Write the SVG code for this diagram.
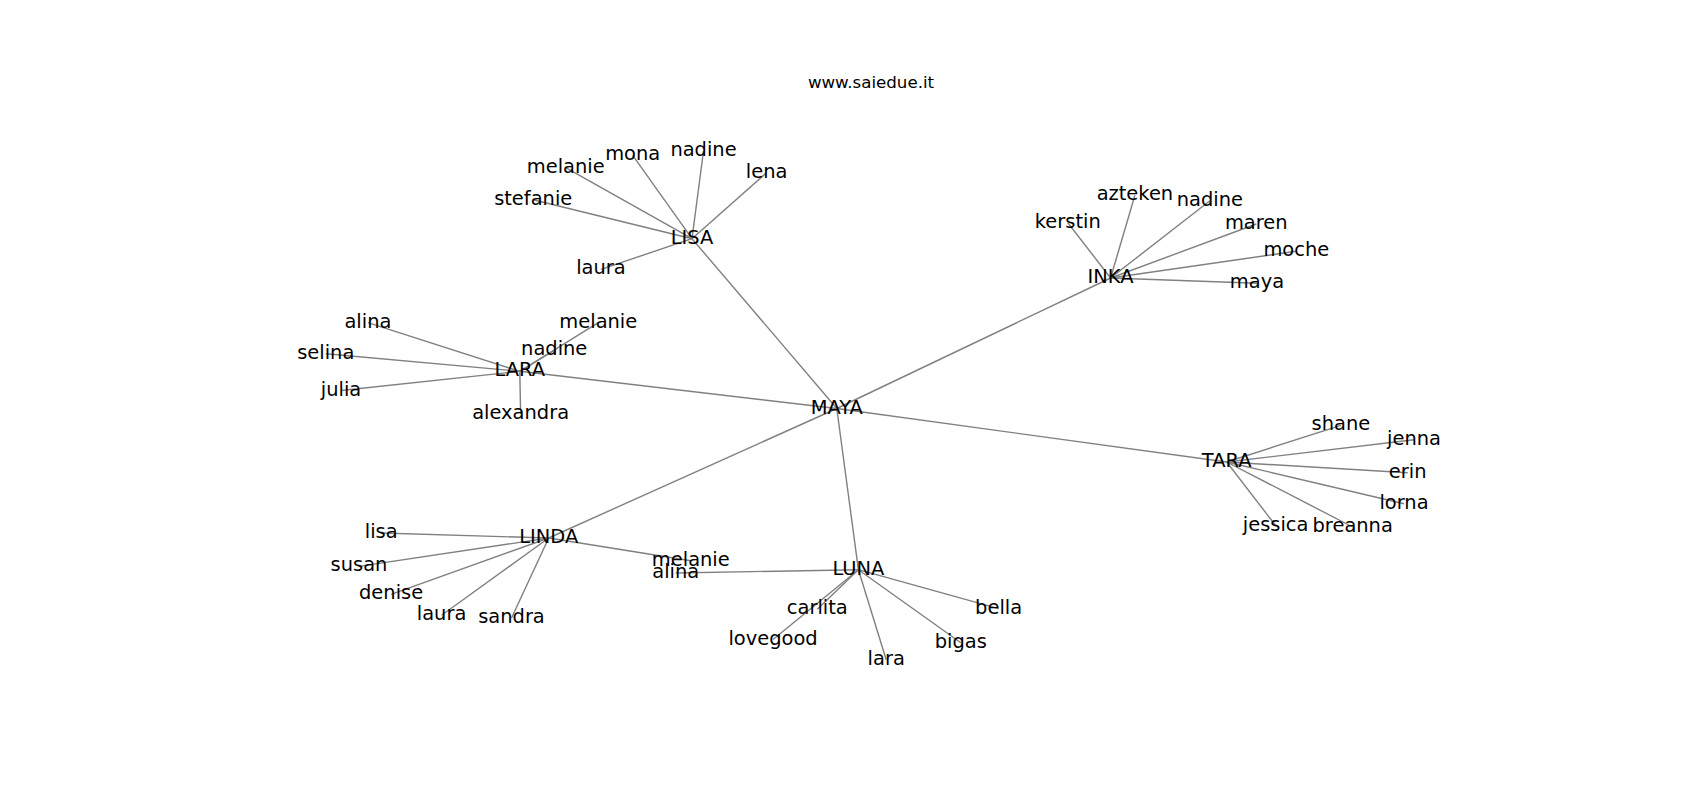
<svg xmlns="http://www.w3.org/2000/svg" width="1700" height="800" viewBox="0 0 1700 800">
<style>
text{font-family:"DejaVu Sans","Liberation Sans",sans-serif;fill:#000}
.l{font-size:19.44px;text-anchor:middle}
.t{font-size:16.67px;text-anchor:middle}
#edges line{stroke:#808080;stroke-width:1.4}
</style>
<rect width="1700" height="800" fill="#fff"/>
<text class="t" x="871" y="87.7">www.saiedue.it</text>
<g id="edges">
<line x1="836.8" y1="408.5" x2="692" y2="238.7"/>
<line x1="836.8" y1="408.5" x2="1110.6" y2="278"/>
<line x1="836.8" y1="408.5" x2="519.8" y2="371.3"/>
<line x1="836.8" y1="408.5" x2="1226.7" y2="462"/>
<line x1="836.8" y1="408.5" x2="548.7" y2="538"/>
<line x1="836.8" y1="408.5" x2="858.4" y2="569.7"/>
<line x1="692" y1="238.7" x2="565.7" y2="167.7"/>
<line x1="692" y1="238.7" x2="632.7" y2="155.4"/>
<line x1="692" y1="238.7" x2="703.5" y2="151"/>
<line x1="692" y1="238.7" x2="766.6" y2="172.7"/>
<line x1="692" y1="238.7" x2="533.2" y2="199.7"/>
<line x1="692" y1="238.7" x2="601" y2="269.3"/>
<line x1="519.8" y1="371.3" x2="367.9" y2="322.7"/>
<line x1="519.8" y1="371.3" x2="325.8" y2="353.7"/>
<line x1="519.8" y1="371.3" x2="341" y2="390.5"/>
<line x1="519.8" y1="371.3" x2="520.6" y2="413.7"/>
<line x1="519.8" y1="371.3" x2="598.3" y2="322.7"/>
<line x1="519.8" y1="371.3" x2="554.2" y2="350.3"/>
<line x1="1110.6" y1="278" x2="1067.8" y2="222.7"/>
<line x1="1110.6" y1="278" x2="1134.9" y2="195.3"/>
<line x1="1110.6" y1="278" x2="1209.9" y2="200.7"/>
<line x1="1110.6" y1="278" x2="1256.3" y2="224"/>
<line x1="1110.6" y1="278" x2="1296.3" y2="251.3"/>
<line x1="1110.6" y1="278" x2="1257" y2="283.3"/>
<line x1="1226.7" y1="462" x2="1340.9" y2="425.3"/>
<line x1="1226.7" y1="462" x2="1414" y2="439.8"/>
<line x1="1226.7" y1="462" x2="1407.7" y2="472.7"/>
<line x1="1226.7" y1="462" x2="1404" y2="503.7"/>
<line x1="1226.7" y1="462" x2="1275.6" y2="525.5"/>
<line x1="1226.7" y1="462" x2="1352.7" y2="527"/>
<line x1="548.7" y1="538" x2="381.2" y2="533"/>
<line x1="548.7" y1="538" x2="359" y2="566.4"/>
<line x1="548.7" y1="538" x2="391.1" y2="594.3"/>
<line x1="548.7" y1="538" x2="441.6" y2="615.3"/>
<line x1="548.7" y1="538" x2="511.5" y2="618"/>
<line x1="548.7" y1="538" x2="690.8" y2="560.7"/>
<line x1="858.4" y1="569.7" x2="675.7" y2="573"/>
<line x1="858.4" y1="569.7" x2="817.3" y2="609.3"/>
<line x1="858.4" y1="569.7" x2="773" y2="639.5"/>
<line x1="858.4" y1="569.7" x2="886.2" y2="659.7"/>
<line x1="858.4" y1="569.7" x2="960.8" y2="642.8"/>
<line x1="858.4" y1="569.7" x2="998.6" y2="608.7"/>
</g>
<g id="n-MAYA"><text class="l" x="836.8" y="413.5">MAYA</text></g>
<g id="n-LISA"><text class="l" x="692" y="243.7">LISA</text></g>
<g id="n-INKA"><text class="l" x="1110.6" y="283">INKA</text></g>
<g id="n-LARA"><text class="l" x="519.8" y="376.3">LARA</text></g>
<g id="n-TARA"><text class="l" x="1226.7" y="467">TARA</text></g>
<g id="n-LINDA"><text class="l" x="548.7" y="543">LINDA</text></g>
<g id="n-LUNA"><text class="l" x="858.4" y="574.7">LUNA</text></g>
<g id="n-lisa-melanie"><text class="l" x="565.7" y="172.7">melanie</text></g>
<g id="n-lisa-mona"><text class="l" x="632.7" y="160.4">mona</text></g>
<g id="n-lisa-nadine"><text class="l" x="703.5" y="156">nadine</text></g>
<g id="n-lisa-lena"><text class="l" x="766.6" y="177.7">lena</text></g>
<g id="n-lisa-stefanie"><text class="l" x="533.2" y="204.7">stefanie</text></g>
<g id="n-lisa-laura"><text class="l" x="601" y="274.3">laura</text></g>
<g id="n-lara-alina"><text class="l" x="367.9" y="327.7">alina</text></g>
<g id="n-lara-selina"><text class="l" x="325.8" y="358.7">selina</text></g>
<g id="n-lara-julia"><text class="l" x="341" y="395.5">julia</text></g>
<g id="n-lara-alexandra"><text class="l" x="520.6" y="418.7">alexandra</text></g>
<g id="n-lara-melanie"><text class="l" x="598.3" y="327.7">melanie</text></g>
<g id="n-lara-nadine"><text class="l" x="554.2" y="355.3">nadine</text></g>
<g id="n-inka-kerstin"><text class="l" x="1067.8" y="227.7">kerstin</text></g>
<g id="n-inka-azteken"><text class="l" x="1134.9" y="200.3">azteken</text></g>
<g id="n-inka-nadine"><text class="l" x="1209.9" y="205.7">nadine</text></g>
<g id="n-inka-maren"><text class="l" x="1256.3" y="229">maren</text></g>
<g id="n-inka-moche"><text class="l" x="1296.3" y="256.3">moche</text></g>
<g id="n-inka-maya"><text class="l" x="1257" y="288.3">maya</text></g>
<g id="n-tara-shane"><text class="l" x="1340.9" y="430.3">shane</text></g>
<g id="n-tara-jenna"><text class="l" x="1414" y="444.8">jenna</text></g>
<g id="n-tara-erin"><text class="l" x="1407.7" y="477.7">erin</text></g>
<g id="n-tara-lorna"><text class="l" x="1404" y="508.7">lorna</text></g>
<g id="n-tara-jessica"><text class="l" x="1275.6" y="530.5">jessica</text></g>
<g id="n-tara-breanna"><text class="l" x="1352.7" y="532">breanna</text></g>
<g id="n-linda-lisa"><text class="l" x="381.2" y="538">lisa</text></g>
<g id="n-linda-susan"><text class="l" x="359" y="571.4">susan</text></g>
<g id="n-linda-denise"><text class="l" x="391.1" y="599.3">denise</text></g>
<g id="n-linda-laura"><text class="l" x="441.6" y="620.3">laura</text></g>
<g id="n-linda-sandra"><text class="l" x="511.5" y="623">sandra</text></g>
<g id="n-linda-melanie"><text class="l" x="690.8" y="565.7">melanie</text></g>
<g id="n-luna-alina"><text class="l" x="675.7" y="578">alina</text></g>
<g id="n-luna-carlita"><text class="l" x="817.3" y="614.3">carlita</text></g>
<g id="n-luna-lovegood"><text class="l" x="773" y="644.5">lovegood</text></g>
<g id="n-luna-lara"><text class="l" x="886.2" y="664.7">lara</text></g>
<g id="n-luna-bigas"><text class="l" x="960.8" y="647.8">bigas</text></g>
<g id="n-luna-bella"><text class="l" x="998.6" y="613.7">bella</text></g>
</svg>
